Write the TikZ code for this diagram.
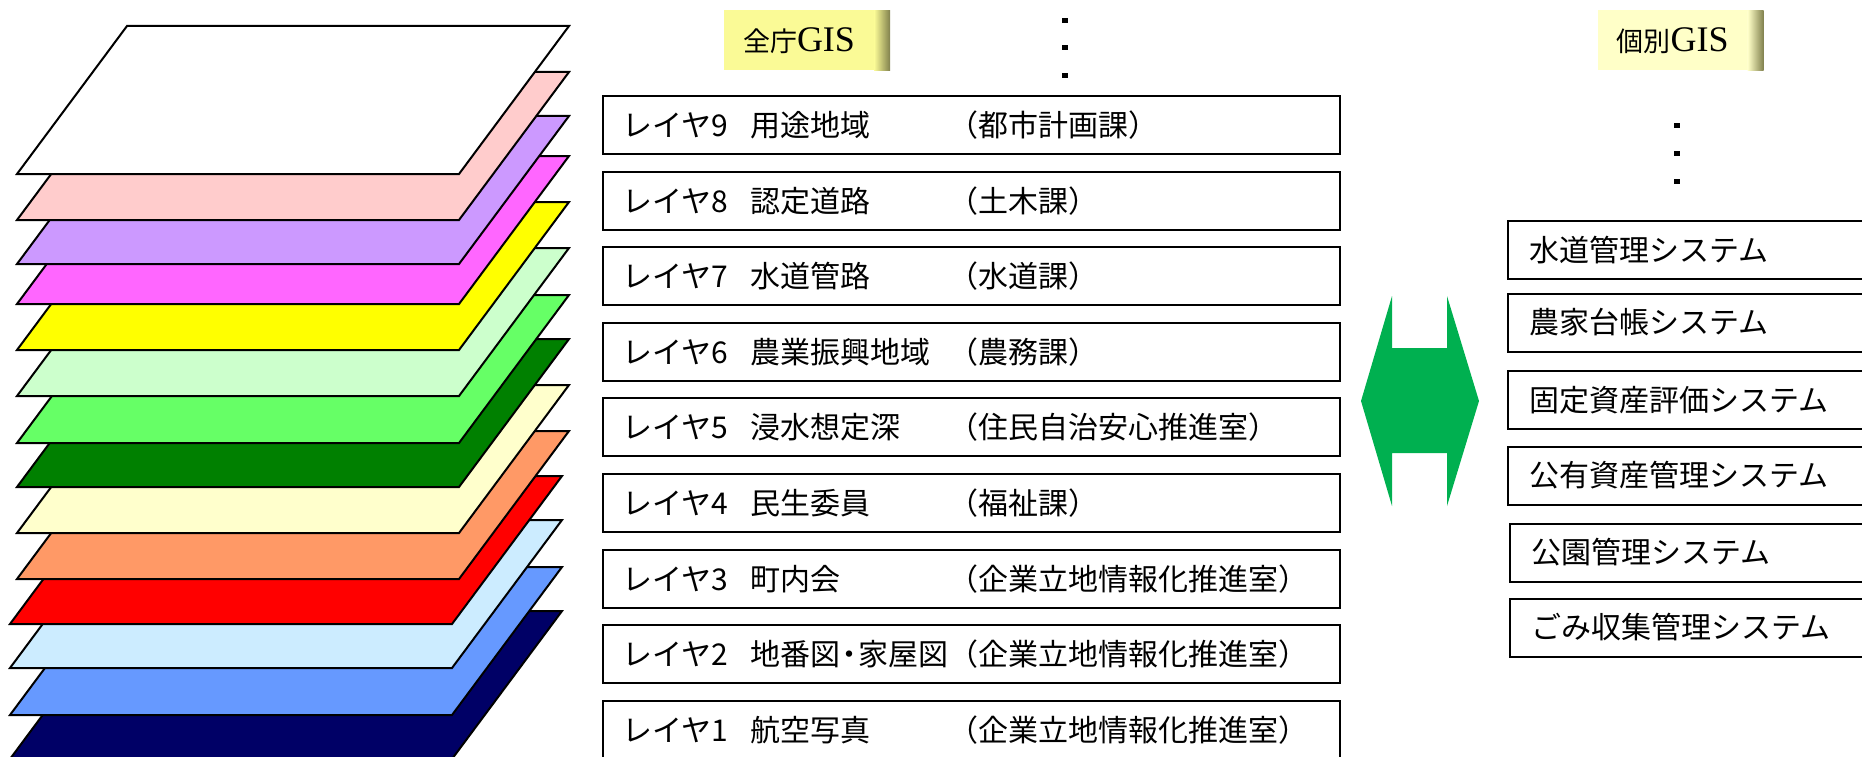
\documentclass[tikz,border=0pt]{standalone}
\usepackage{fontspec}
\usepackage{tikz}
\setmainfont{Noto Sans CJK JP}
\newfontfamily\gisfont{Liberation Serif}

\definecolor{layernavy}{HTML}{000066}
\definecolor{layerblue}{HTML}{6699FF}
\definecolor{layerlightblue}{HTML}{CCECFF}
\definecolor{layerred}{HTML}{FF0000}
\definecolor{layerorange}{HTML}{FF9966}
\definecolor{layercream}{HTML}{FFFFCC}
\definecolor{layerdarkgreen}{HTML}{008000}
\definecolor{layergreen}{HTML}{66FF66}
\definecolor{layermint}{HTML}{CCFFCC}
\definecolor{layeryellow}{HTML}{FFFF00}
\definecolor{layermagenta}{HTML}{FF66FF}
\definecolor{layerlilac}{HTML}{CC99FF}
\definecolor{layerpink}{HTML}{FFCCCC}
\definecolor{arrowgreen}{HTML}{00B050}
\definecolor{allgisfill}{HTML}{FAFA96}
\definecolor{owngisfill}{HTML}{FFFFC8}
\definecolor{labelshadow}{HTML}{7F7F4C}

\tikzset{
  layer/.style={draw=black, line width=2pt},
  layerbox/.style={draw, line width=2pt, minimum height=58pt, text width=697pt,
    inner xsep=20pt, inner ysep=0pt, align=left, anchor=west,
    font=\fontsize{30}{32}\selectfont},
  sysbox/.style={draw, line width=2pt, minimum height=58pt, text width=379pt,
    inner xsep=21pt, inner ysep=0pt, align=left, anchor=west,
    font=\fontsize{30}{32}\selectfont},
  gislabel/.style={minimum width=150pt, minimum height=60pt, inner sep=0pt,
    font=\fontsize{27}{30}\selectfont},
}

\newcommand{\layerrow}[3]{\makebox[128pt][l]{#1}\makebox[198pt][l]{#2}#3}
\newcommand{\gistext}{{\gisfont\fontsize{36}{36}\selectfont GIS}}

\begin{document}
\begin{tikzpicture}[x=1pt, y=-1pt]
    \useasboundingbox (0,0) rectangle (1862,757);
    \clip (0,0) rectangle (1862,757);

    % Draw the stacked layers, bottom one first
    \foreach \yt/\xl/\col in {611/10/layernavy, 567/10/layerblue, 520/10/layerlightblue,
        476/10/layerred, 431/17/layerorange, 385/17/layercream, 339/17/layerdarkgreen,
        295/17/layergreen, 248/17/layermint, 202/17/layeryellow, 156/17/layermagenta,
        116/17/layerlilac, 72/17/layerpink, 26/17/white}
        \draw[layer, fill=\col] (\xl,\yt+148) -- ++(442,0) -- ++(110,-148) -- ++(-442,0) -- cycle;

    % Labels on top of the two columns
    \node[gislabel, fill=allgisfill] (allgis) at (799,40.5) {全庁\gistext};
    \shade[left color=allgisfill, right color=labelshadow] (allgis.north east) rectangle ++(16,60);
    \node[gislabel, fill=owngisfill] (owngis) at (1672.5,40.5) {個別\gistext};
    \shade[left color=owngisfill, right color=labelshadow] (owngis.north east) rectangle ++(16,60);

    % Dots
    \foreach \y in {21,48,76}
        \fill (1062,\y-2.5) rectangle ++(6,5);
    \foreach \y in {126,153,181}
        \fill (1674,\y-2.5) rectangle ++(6,5);

    % Layers of the whole-office GIS
    \foreach \n/\what/\dept in {9/用途地域/（都市計画課）, 8/認定道路/（土木課）,
        7/水道管路/（水道課）, 6/農業振興地域/（農務課）, 5/浸水想定深/（住民自治安心推進室）,
        4/民生委員/（福祉課）, 3/町内会/（企業立地情報化推進室）,
        2/{地番図\makebox[18pt]{・}家屋図}/（企業立地情報化推進室）,
        1/航空写真/（企業立地情報化推進室）}
        \node[layerbox] (layer\n) at (601.5,{125+75.6*(9-\n)}) {\layerrow{レイヤ\n}{\what}{\dept}};

    % Separate systems
    \foreach \i/\yc/\xl/\sys in {1/250/1507/水道管理システム, 2/322.5/1507/農家台帳システム,
        3/400/1507/固定資産評価システム, 4/475.5/1507/公有資産管理システム,
        5/552.5/1509/公園管理システム, 6/627.5/1509/ごみ収集管理システム}
        \node[sysbox] (sys\i) at (\xl,\yc) {\sys};

    % Draw the arrow
    \fill[arrowgreen] (1392,296) -- (1392,348) -- (1447,348) -- (1447,296) -- (1479,401)
        -- (1447,506) -- (1447,453) -- (1392,453) -- (1392,506) -- (1361,401) -- cycle;

\end{tikzpicture}
\end{document}
